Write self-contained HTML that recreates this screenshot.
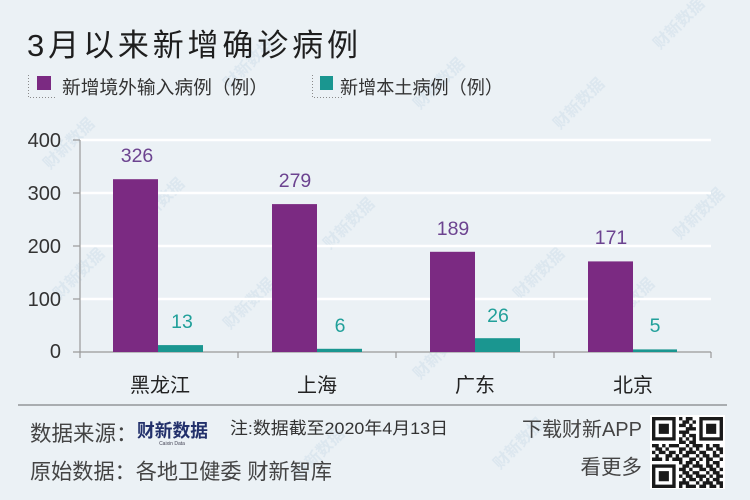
<!DOCTYPE html>
<html><head><meta charset="utf-8"><style>
html,body{margin:0;padding:0;background:#ebf1f5;}
svg{display:block;}
text{font-family:"Liberation Sans","Noto Sans CJK SC",sans-serif;}
</style></head><body>
<svg width="750" height="500" viewBox="0 0 750 500" xmlns="http://www.w3.org/2000/svg">
<rect width="750" height="500" fill="#ebf1f5"/>
<!-- faint watermarks -->
<g fill="#d6e2ec" font-size="16" font-weight="bold" opacity="0.7">
<text transform="translate(660,50) rotate(-45)">财新数据</text>
<text transform="translate(560,130) rotate(-45)">财新数据</text>
<text transform="translate(680,240) rotate(-45)">财新数据</text>
<text transform="translate(420,110) rotate(-45)">财新数据</text>
<text transform="translate(230,90) rotate(-45)">财新数据</text>
<text transform="translate(50,170) rotate(-45)">财新数据</text>
<text transform="translate(140,230) rotate(-45)">财新数据</text>
<text transform="translate(330,250) rotate(-45)">财新数据</text>
<text transform="translate(230,330) rotate(-45)">财新数据</text>
<text transform="translate(520,300) rotate(-45)">财新数据</text>
<text transform="translate(610,330) rotate(-45)">财新数据</text>
<text transform="translate(420,380) rotate(-45)">财新数据</text>
<text transform="translate(60,300) rotate(-45)">财新数据</text>
<text transform="translate(300,480) rotate(-45)">财新数据</text>
<text transform="translate(500,470) rotate(-45)">财新数据</text>
</g>
<!-- title -->
<text x="27" y="56" font-size="31" fill="#1e1e1e" textLength="331" lengthAdjust="spacing">3月以来新增确诊病例</text>
<!-- legend -->
<g stroke="#8a8a8a" stroke-width="1" stroke-dasharray="1,2" fill="none">
<path d="M28.5 75 V97.5 H55"/>
<path d="M312.5 75 V97.5 H343"/>
</g>
<rect x="37" y="76" width="14" height="14" fill="#7b2a82"/>
<text x="62" y="94" font-size="18.5" fill="#333" textLength="206" lengthAdjust="spacingAndGlyphs">新增境外输入病例（例）</text>
<rect x="320" y="76" width="13" height="14" fill="#1a9690"/>
<text x="340" y="94" font-size="18.5" fill="#333" textLength="163" lengthAdjust="spacingAndGlyphs">新增本土病例（例）</text>
<!-- grid -->
<g stroke="#ffffff" stroke-width="2.5">
<line x1="80" y1="140" x2="711" y2="140"/>
<line x1="80" y1="193" x2="711" y2="193"/>
<line x1="80" y1="246" x2="711" y2="246"/>
<line x1="80" y1="299" x2="711" y2="299"/>
</g>
<!-- axes -->
<g stroke="#999" stroke-width="1.2">
<line x1="80" y1="140" x2="80" y2="358"/>
<line x1="73" y1="140" x2="80" y2="140"/>
<line x1="73" y1="193" x2="80" y2="193"/>
<line x1="73" y1="246" x2="80" y2="246"/>
<line x1="73" y1="299" x2="80" y2="299"/>
<line x1="73" y1="352" x2="711" y2="352"/>
<line x1="238" y1="352" x2="238" y2="358"/>
<line x1="396" y1="352" x2="396" y2="358"/>
<line x1="554" y1="352" x2="554" y2="358"/>
<line x1="711" y1="352" x2="711" y2="358"/>
</g>
<g font-size="20" fill="#333" text-anchor="end">
<text x="61" y="147">400</text>
<text x="61" y="200">300</text>
<text x="61" y="253">200</text>
<text x="61" y="306">100</text>
<text x="61" y="358">0</text>
</g>
<!-- bars -->
<g fill="#7b2a82">
<rect x="113" y="179.2" width="45" height="172.8"/>
<rect x="272" y="204.1" width="45" height="147.9"/>
<rect x="430" y="251.8" width="45" height="100.2"/>
<rect x="588" y="261.4" width="45" height="90.6"/>
</g>
<g fill="#1a9690">
<rect x="158" y="345.1" width="45" height="6.9"/>
<rect x="317" y="348.8" width="45" height="3.2"/>
<rect x="475" y="338.2" width="45" height="13.8"/>
<rect x="633" y="349.4" width="44" height="2.6"/>
</g>
<!-- value labels -->
<g font-size="19.5" text-anchor="middle">
<text x="137" y="162" fill="#6c4390">326</text>
<text x="295" y="187" fill="#6c4390">279</text>
<text x="453" y="235" fill="#6c4390">189</text>
<text x="611" y="244" fill="#6c4390">171</text>
<text x="182" y="328" fill="#21a09a">13</text>
<text x="340" y="332" fill="#21a09a">6</text>
<text x="498" y="322" fill="#21a09a">26</text>
<text x="655" y="332" fill="#21a09a">5</text>
</g>
<!-- categories -->
<g font-size="20" fill="#222" text-anchor="middle">
<text x="160" y="392">黑龙江</text>
<text x="317" y="392">上海</text>
<text x="475" y="392">广东</text>
<text x="633" y="392">北京</text>
</g>
<!-- footer -->
<line x1="18" y1="405" x2="727" y2="405" stroke="#a9adb0" stroke-width="2"/>
<text x="30" y="441" font-size="21.5" fill="#444">数据来源：</text>
<text x="137" y="437" font-size="18" font-weight="bold" fill="#22306b" textLength="71" lengthAdjust="spacingAndGlyphs">财新数据</text>
<text x="172" y="445" font-size="5" fill="#445" text-anchor="middle">Caixin Data</text>
<text x="230" y="434" font-size="17" fill="#333" textLength="218" lengthAdjust="spacingAndGlyphs">注:数据截至2020年4月13日</text>
<text x="30" y="479" font-size="21.5" fill="#444" textLength="302" lengthAdjust="spacingAndGlyphs">原始数据：各地卫健委 财新智库</text>
<text x="642" y="436" font-size="20" fill="#444" text-anchor="end">下载财新APP</text>
<text x="642" y="474" font-size="20.5" fill="#444" text-anchor="end">看更多</text>
<!-- QR -->
<rect x="650" y="415" width="75" height="74" fill="#ffffff"/>
<g transform="translate(652,417) scale(3.38)" fill="#1a1a1a">
<path d="M0 0h7v1h-7zM8 0h1v1h-1zM10 0h2v1h-2zM14 0h7v1h-7z
M0 1h1v1h-1zM6 1h1v1h-1zM9 1h2v1h-2zM12 1h1v1h-1zM14 1h1v1h-1zM20 1h1v1h-1z
M0 2h1v1h-1zM2 2h3v1h-3zM6 2h1v1h-1zM8 2h2v1h-2zM11 2h1v1h-1zM14 2h1v1h-1zM16 2h3v1h-3zM20 2h1v1h-1z
M0 3h1v1h-1zM2 3h3v1h-3zM6 3h1v1h-1zM10 3h3v1h-3zM14 3h1v1h-1zM16 3h3v1h-3zM20 3h1v1h-1z
M0 4h1v1h-1zM2 4h3v1h-3zM6 4h1v1h-1zM8 4h3v1h-3zM14 4h1v1h-1zM16 4h3v1h-3zM20 4h1v1h-1z
M0 5h1v1h-1zM6 5h1v1h-1zM9 5h1v1h-1zM11 5h2v1h-2zM14 5h1v1h-1zM20 5h1v1h-1z
M0 6h7v1h-7zM8 6h1v1h-1zM10 6h1v1h-1zM12 6h1v1h-1zM14 6h7v1h-7z
M8 7h2v1h-2zM11 7h2v1h-2z
M0 8h2v1h-2zM3 8h1v1h-1zM5 8h3v1h-3zM10 8h1v1h-1zM12 8h3v1h-3zM16 8h1v1h-1zM18 8h2v1h-2z
M1 9h2v1h-2zM4 9h1v1h-1zM8 9h2v1h-2zM11 9h1v1h-1zM13 9h1v1h-1zM16 9h2v1h-2zM19 9h2v1h-2z
M0 10h1v1h-1zM2 10h2v1h-2zM5 10h2v1h-2zM8 10h1v1h-1zM10 10h3v1h-3zM14 10h2v1h-2zM18 10h1v1h-1zM20 10h1v1h-1z
M1 11h1v1h-1zM4 11h2v1h-2zM7 11h1v1h-1zM9 11h2v1h-2zM13 11h1v1h-1zM15 11h2v1h-2zM18 11h2v1h-2z
M0 12h3v1h-3zM4 12h1v1h-1zM6 12h3v1h-3zM11 12h2v1h-2zM14 12h1v1h-1zM16 12h2v1h-2zM20 12h1v1h-1z
M8 13h1v1h-1zM10 13h2v1h-2zM13 13h1v1h-1zM16 13h1v1h-1zM18 13h2v1h-2z
M0 14h7v1h-7zM9 14h2v1h-2zM12 14h3v1h-3zM16 14h2v1h-2zM19 14h1v1h-1z
M0 15h1v1h-1zM6 15h1v1h-1zM8 15h2v1h-2zM11 15h1v1h-1zM14 15h2v1h-2zM17 15h2v1h-2zM20 15h1v1h-1z
M0 16h1v1h-1zM2 16h3v1h-3zM6 16h1v1h-1zM9 16h2v1h-2zM12 16h2v1h-2zM16 16h1v1h-1zM18 16h2v1h-2z
M0 17h1v1h-1zM2 17h3v1h-3zM6 17h1v1h-1zM8 17h1v1h-1zM10 17h2v1h-2zM13 17h3v1h-3zM17 17h1v1h-1zM19 17h2v1h-2z
M0 18h1v1h-1zM2 18h3v1h-3zM6 18h1v1h-1zM9 18h1v1h-1zM11 18h2v1h-2zM14 18h1v1h-1zM16 18h1v1h-1zM18 18h2v1h-2z
M0 19h1v1h-1zM6 19h1v1h-1zM8 19h3v1h-3zM13 19h1v1h-1zM15 19h3v1h-3zM19 19h2v1h-2z
M0 20h7v1h-7zM8 20h1v1h-1zM10 20h3v1h-3zM14 20h2v1h-2zM17 20h2v1h-2zM20 20h1v1h-1z"/>
</g>
</svg>
</body></html>
